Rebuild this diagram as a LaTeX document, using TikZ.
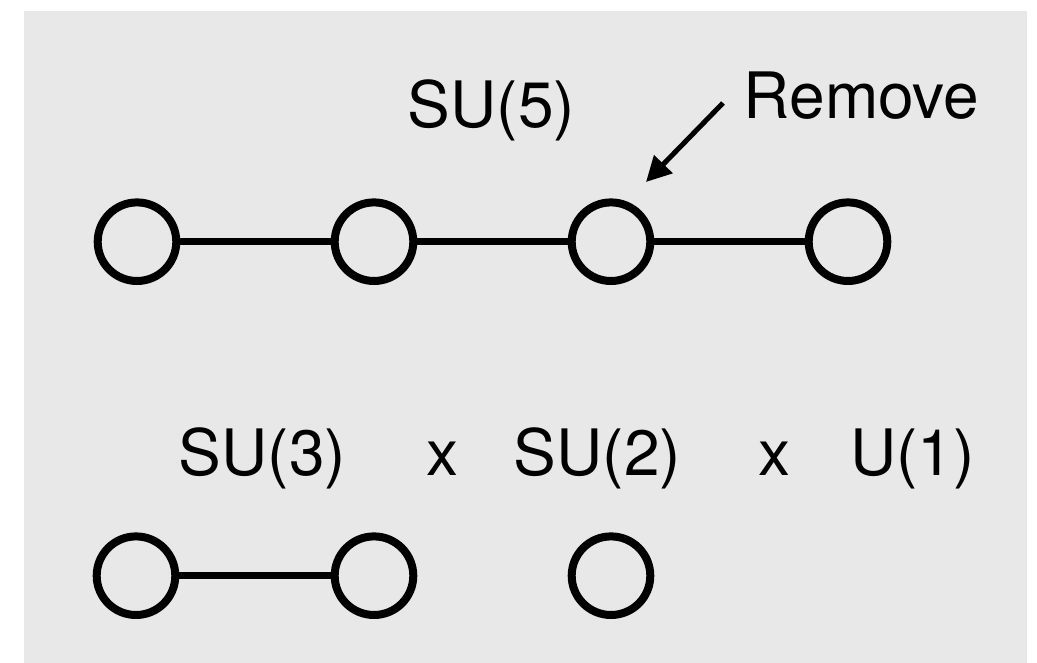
\documentclass[tikz,border=0pt]{standalone}
\usepackage{fontspec}
\setmainfont{TeX Gyre Heros}
\usetikzlibrary{arrows.meta}
\definecolor{bggray}{RGB}{232,232,232}
\tikzset{
  dyn/.style={circle, draw=black, line width=8pt, minimum size=78.6pt, inner sep=0pt, fill=none},
  link/.style={line width=7pt, draw=black},
  lbl/.style={anchor=base, inner sep=0pt, font=\fontsize{64}{76}\selectfont},
  pointer/.style={line width=5pt, -{Triangle[length=25pt,width=25pt]}}
}
\begin{document}
\begin{tikzpicture}[x=1pt,y=-1pt]
\useasboundingbox (0,0) rectangle (1037,663);
\fill[bggray] (23.5,11) rectangle (1026.7,662.5);
% row 1: SU(5)
\node[dyn] (a1) at (137,241.7) {};
\node[dyn] (a2) at (374,241.7) {};
\node[dyn] (a3) at (611,241.7) {};
\node[dyn] (a4) at (848,241.7) {};
\draw[link] (a1) -- (a2);
\draw[link] (a2) -- (a3);
\draw[link] (a3) -- (a4);
\node[lbl] (su5) at (491.5,128) {SU(5)};
\node[lbl] (rem) at (861.5,119) {Remove};
\coordinate (arrs) at (723,103);
\coordinate (arre) at (646,182);
\draw[pointer] (arrs) -- (arre);
% row 2
\node[lbl] (su3) at (262.5,475) {SU(3)};
\node[lbl] (x1) at (442,475) {x};
\node[lbl] (su2) at (597.5,475) {SU(2)};
\node[lbl] (x2) at (774,475) {x};
\node[lbl] (u1) at (912.5,475) {U(1)};
\node[dyn] (b1) at (136,575.7) {};
\node[dyn] (b2) at (374,575.7) {};
\node[dyn] (b3) at (611,575.7) {};
\draw[link] (b1) -- (b2);
\end{tikzpicture}
\end{document}
